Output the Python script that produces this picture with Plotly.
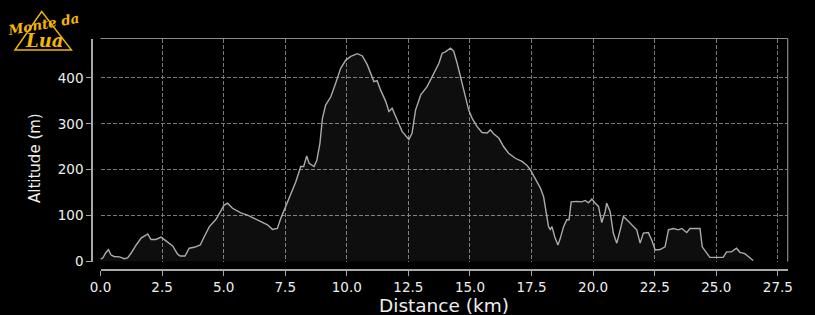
import plotly.graph_objects as go

# Elevation profile
distance_km = [0.0, 0.1, 0.2, 0.32, 0.43, 0.55, 0.77, 0.97, 1.1, 1.24, 1.45, 1.65, 1.92, 2.05,
               2.25, 2.46, 2.66, 2.93, 3.13, 3.24, 3.43, 3.6, 3.81, 4.05, 4.21, 4.42, 4.69,
               4.86, 5.02, 5.16, 5.36, 5.7, 5.97, 6.24, 6.51, 6.78, 6.98, 7.18, 7.32, 7.52,
               7.73, 7.93, 8.13, 8.25, 8.37, 8.47, 8.67, 8.78, 8.91, 9.01, 9.14, 9.35, 9.55,
               9.75, 9.96, 10.16, 10.43, 10.63, 10.83, 10.97, 11.1, 11.23, 11.37, 11.58, 11.71,
               11.84, 12.05, 12.25, 12.52, 12.65, 12.79, 13.0, 13.26, 13.53, 13.74, 13.87,
               14.0, 14.21, 14.34, 14.48, 14.62, 14.82, 14.95, 15.09, 15.29, 15.49, 15.7,
               15.83, 15.97, 16.17, 16.37, 16.57, 16.84, 17.11, 17.31, 17.45, 17.65, 17.86,
               17.99, 18.08, 18.19, 18.26, 18.33, 18.44, 18.57, 18.67, 18.8, 18.93, 19.02,
               19.11, 19.34, 19.54, 19.68, 19.81, 19.95, 20.09, 20.22, 20.35, 20.49, 20.55,
               20.69, 20.82, 20.96, 21.1, 21.23, 21.37, 21.57, 21.77, 21.91, 22.04, 22.24,
               22.38, 22.52, 22.72, 22.92, 23.06, 23.26, 23.46, 23.6, 23.8, 23.93, 24.13,
               24.34, 24.43, 24.61, 24.74, 24.95, 25.28, 25.42, 25.62, 25.82, 25.96, 26.16,
               26.36, 26.5]
altitude_m = [5, 8, 18, 26, 14, 11, 10, 6, 8, 18, 36, 51, 60, 48,
              48, 53, 45, 34, 16, 12, 12, 29, 31, 36, 54, 76, 92,
              109, 123, 127, 116, 106, 101, 94, 87, 80, 70, 72, 94, 120,
              149, 174, 207, 207, 230, 214, 207, 220, 258, 312, 341, 359, 389,
              421, 439, 447, 453, 448, 429, 410, 392, 394, 374, 349, 327,
              334, 309, 283, 266, 280, 330, 363, 381, 410, 432, 454,
              457, 465, 458, 432, 403, 363, 330, 312, 294, 281, 280,
              287, 278, 269, 250, 236, 225, 218, 210, 200, 181, 160,
              141, 112, 76, 70, 76, 54, 36, 51, 76, 91, 91,
              130, 131, 130, 133, 128, 136, 127, 120, 85, 109, 127,
              109, 62, 40, 69, 98, 91, 80, 69, 40, 62, 63,
              47, 25, 26, 32, 69, 72, 69, 72, 63, 72, 72,
              72, 32, 18, 9, 9, 9, 21, 21, 29, 20, 17,
              7, 2]

x_ticks = [0.0, 2.5, 5.0, 7.5, 10.0, 12.5, 15.0, 17.5, 20.0, 22.5, 25.0, 27.5]
y_ticks = [0, 100, 200, 300, 400]
x_range = [0, 27.9]
y_range = [0, 486]

W, H = 815, 315
def px(x):
    return x / W
def py(y):
    return 1 - y / H

x_dom = [px(100.5), px(787.7)]
y_dom = [py(261.5), py(38.5)]

GRID = "#7a7a7a"
AXIS = "#a8a8a8"
TXT = "#eeeeee"
GOLD = "#f2b705"
FONT = "DejaVu Sans"

fig = go.Figure()
fig.add_trace(go.Scatter(
    x=distance_km, y=altitude_m, mode="lines",
    line=dict(color="#ababab", width=1.4),
    fill="tozeroy", fillcolor="rgba(255,255,255,0.055)",
    hoverinfo="skip", showlegend=False))
# invisible trace to carry the offset axes
fig.add_trace(go.Scatter(
    x=distance_km, y=altitude_m, xaxis="x2", yaxis="y2", mode="lines",
    line=dict(width=0, color="rgba(0,0,0,0)"), hoverinfo="skip", showlegend=False))

fig.update_layout(
    width=W, height=H, autosize=False,
    margin=dict(l=0, r=0, t=0, b=0, pad=0, autoexpand=False),
    paper_bgcolor="#000000", plot_bgcolor="#000000",
    font=dict(family=FONT, color=TXT, size=13.5),
    xaxis=dict(domain=x_dom, range=x_range, anchor="y", automargin=False,
               tickvals=x_ticks, showticklabels=False, ticks="",
               showgrid=True, gridcolor=GRID, gridwidth=1, griddash="4px,2px",
               zeroline=False, showline=False),
    yaxis=dict(domain=y_dom, range=y_range, anchor="x", automargin=False,
               tickvals=y_ticks, showticklabels=False, ticks="",
               showgrid=True, gridcolor=GRID, gridwidth=1, griddash="4px,2px",
               zeroline=False, showline=False),
    xaxis2=dict(domain=x_dom, range=x_range, overlaying="x", anchor="free",
                position=py(270), side="bottom", automargin=False,
                tickvals=x_ticks, ticktext=[f"{v:.1f}" for v in x_ticks],
                ticks="outside", ticklen=5, tickwidth=1.3, tickcolor=AXIS,
                showline=True, linecolor=AXIS, linewidth=1.5,
                showgrid=False, zeroline=False,
                tickfont=dict(family=FONT, size=13.5, color=TXT)),
    yaxis2=dict(domain=y_dom, range=y_range, overlaying="y", anchor="free",
                position=px(92), side="left", automargin=False,
                tickvals=y_ticks, ticktext=[str(v) for v in y_ticks],
                ticks="outside", ticklen=5, tickwidth=1.3, tickcolor=AXIS,
                showline=True, linecolor=AXIS, linewidth=1.5,
                showgrid=False, zeroline=False,
                tickfont=dict(family=FONT, size=13.5, color=TXT)),
)

# top and right frame
fig.add_shape(type="line", xref="x domain", yref="y domain", x0=0, x1=1, y0=1, y1=1,
              line=dict(color="#8a8a8a", width=1.2))
fig.add_shape(type="line", xref="x domain", yref="y domain", x0=1, x1=1, y0=0, y1=1,
              line=dict(color="#8a8a8a", width=1.2))

# axis titles
fig.add_annotation(text="Distance (km)", xref="paper", yref="paper",
                   x=px(444), y=py(305), xanchor="center", yanchor="middle",
                   showarrow=False, font=dict(family=FONT, size=18.5, color=TXT))
fig.add_annotation(text="Altitude (m)", xref="paper", yref="paper",
                   x=px(35), y=py(158), xanchor="center", yanchor="middle", textangle=-90,
                   showarrow=False, font=dict(family=FONT, size=15, color=TXT))

# logo: triangle + script text
fig.add_shape(type="path", xref="paper", yref="paper",
              path=f"M {px(15)} {py(50)} L {px(41.7)} {py(11.5)} L {px(71.5)} {py(50)} Z",
              line=dict(color=GOLD, width=1.4))
fig.add_annotation(text="<i><b>Monte da</b></i>", xref="paper", yref="paper",
                   x=px(43), y=py(24), xanchor="center", yanchor="middle", textangle=-10,
                   showarrow=False,
                   font=dict(family="DejaVu Serif", size=13.5, color=GOLD))
fig.add_annotation(text="<i><b>Lua</b></i>", xref="paper", yref="paper",
                   x=px(44), y=py(41), xanchor="center", yanchor="middle",
                   showarrow=False,
                   font=dict(family="DejaVu Serif", size=18, color=GOLD))

fig.write_html("out.html")
